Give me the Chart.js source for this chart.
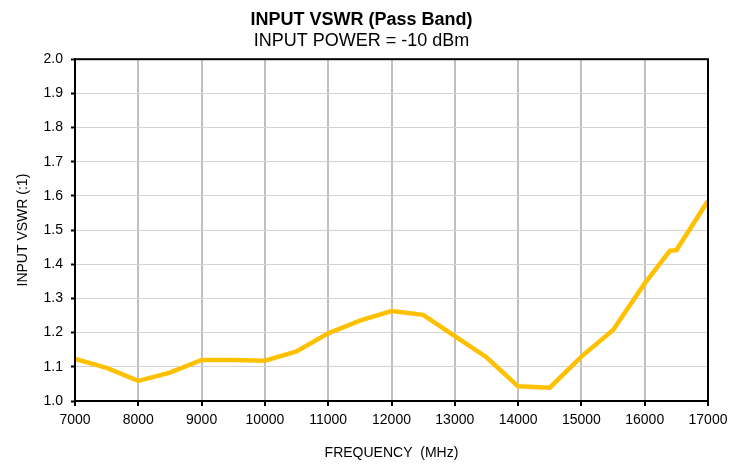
<!DOCTYPE html>
<html>
<head>
<meta charset="utf-8">
<script src="https://cdn.jsdelivr.net/npm/chart.js@4"></script>
<style>
  html, body { margin: 0; padding: 0; background: #ffffff; }
  #wrap { width: 751px; height: 465px; }
</style>
</head>
<body>
<div id="wrap"><canvas id="chart" width="751" height="465"></canvas></div>
<script>
// ── Data ─────────────────────────────────────────────────────────────────
const frequencies = [7000, 7500, 8000, 8500, 9000, 9500, 10000, 10500, 11000, 11500,
                     12000, 12500, 13000, 13500, 14000, 14500, 15000, 15500, 16000, 16400, 16500, 17000];
const vswrValues  = [1.123, 1.097, 1.059, 1.083, 1.120, 1.120, 1.118, 1.145, 1.198, 1.235,
                     1.263, 1.252, 1.190, 1.128, 1.043, 1.039, 1.130, 1.208, 1.344, 1.440, 1.441, 1.586];
const xTicks = [7000, 8000, 9000, 10000, 11000, 12000, 13000, 14000, 15000, 16000, 17000];
const yTicks = [1.0, 1.1, 1.2, 1.3, 1.4, 1.5, 1.6, 1.7, 1.8, 1.9, 2.0];

const FONT = 'Liberation Sans, Arial, sans-serif';

// Black frame round the plot area (top and right included)
const framePlugin = {
    id: 'frame',
    afterDraw(chart) {
        const { ctx, chartArea: a } = chart;
        ctx.save();
        ctx.strokeStyle = '#000000';
        ctx.lineWidth = 2;
        ctx.strokeRect(a.left, a.top, a.right - a.left, a.bottom - a.top);
        ctx.restore();
    }
};

new Chart(document.getElementById('chart'), {
    type: 'line',
    data: {
        datasets: [{
            data: frequencies.map((f, i) => ({ x: f, y: vswrValues[i] })),
            borderColor: '#FFC000',
            borderWidth: 4.5,
            pointRadius: 0,
            tension: 0,
            fill: false
        }]
    },
    options: {
        responsive: false,
        animation: false,
        layout: { padding: { left: 15, right: 43, top: 0, bottom: 0 } },
        plugins: {
            legend: { display: false },
            tooltip: { enabled: false },
            title: {
                display: true,
                text: 'INPUT VSWR (Pass Band)',
                color: '#000000',
                font: { family: FONT, size: 18, weight: 'bold' },
                padding: { top: 9, bottom: 0 }
            },
            subtitle: {
                display: true,
                text: 'INPUT POWER = -10 dBm',
                color: '#000000',
                font: { family: FONT, size: 18 },
                padding: { top: 0, bottom: 7 }
            }
        },
        scales: {
            x: {
                type: 'linear',
                min: 7000,
                max: 17000,
                afterBuildTicks: (scale) => { scale.ticks = xTicks.map(v => ({ value: v })); },
                afterFit: (scale) => { scale.height = 64; },
                ticks: {
                    color: '#000000',
                    font: { family: FONT, size: 14 },
                    padding: 6,
                    maxRotation: 0,
                    callback: (v) => String(v)
                },
                grid: {
                    color: '#C0C0C0',
                    lineWidth: 2,
                    tickColor: '#000000',
                    tickLength: 5,
                    tickWidth: 2
                },
                border: { display: true, color: '#000000', width: 2 },
                title: {
                    display: true,
                    text: 'FREQUENCY  (MHz)',
                    color: '#000000',
                    font: { family: FONT, size: 14 },
                    padding: { top: 5, bottom: 3 }
                }
            },
            y: {
                min: 1.0,
                max: 2.0,
                afterBuildTicks: (scale) => { scale.ticks = yTicks.map(v => ({ value: v })); },
                afterFit: (scale) => { scale.width = 60; },
                ticks: {
                    color: '#000000',
                    font: { family: FONT, size: 14 },
                    padding: 8,
                    callback: (v) => Number(v).toFixed(1)
                },
                grid: {
                    color: '#D4D4D4',
                    lineWidth: 1,
                    tickColor: '#000000',
                    tickLength: 4,
                    tickWidth: 2
                },
                border: { display: true, color: '#000000', width: 2 },
                title: {
                    display: true,
                    text: 'INPUT VSWR (:1)',
                    color: '#000000',
                    font: { family: FONT, size: 14 },
                    padding: { top: 0, bottom: 4 }
                }
            }
        }
    },
    plugins: [framePlugin]
});
</script>
</body>
</html>
